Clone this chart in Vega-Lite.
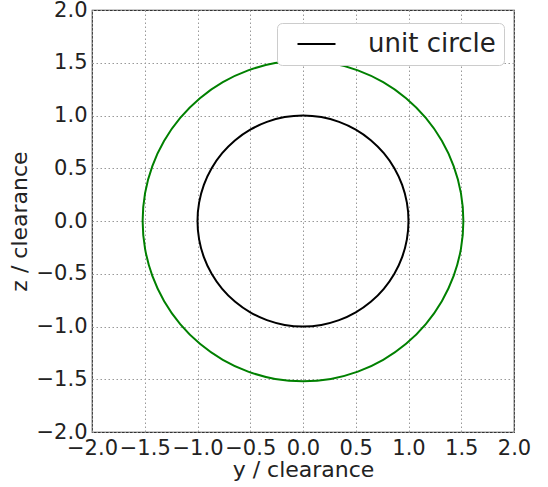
{
  "$schema": "https://vega.github.io/schema/vega-lite/v6.json",
  "autosize": "none",
  "width": 422,
  "height": 422,
  "padding": {"left": 92, "top": 10, "right": 34, "bottom": 55},
  "background": "white",
  "config": {
    "font": "DejaVu Sans",
    "view": {"stroke": "#333", "strokeWidth": 1.2},
    "axis": {
      "labelFont": "DejaVu Sans",
      "titleFont": "DejaVu Sans",
      "labelFontSize": 21,
      "titleFontSize": 22,
      "titleFontWeight": "normal",
      "labelColor": "#222",
      "titleColor": "#222",
      "domain": false,
      "ticks": false,
      "grid": true,
      "gridColor": "#999",
      "gridDash": [1.5, 2.5],
      "gridWidth": 1
    }
  },
  "datasets": {
    "green": [
      {"i": 0, "y": 1.52, "z": 0},
      {"i": 1, "y": 1.497, "z": 0.264},
      {"i": 2, "y": 1.428, "z": 0.52},
      {"i": 3, "y": 1.316, "z": 0.76},
      {"i": 4, "y": 1.164, "z": 0.977},
      {"i": 5, "y": 0.977, "z": 1.164},
      {"i": 6, "y": 0.76, "z": 1.316},
      {"i": 7, "y": 0.52, "z": 1.428},
      {"i": 8, "y": 0.264, "z": 1.497},
      {"i": 9, "y": 0, "z": 1.52},
      {"i": 10, "y": -0.264, "z": 1.497},
      {"i": 11, "y": -0.52, "z": 1.428},
      {"i": 12, "y": -0.76, "z": 1.316},
      {"i": 13, "y": -0.977, "z": 1.164},
      {"i": 14, "y": -1.164, "z": 0.977},
      {"i": 15, "y": -1.316, "z": 0.76},
      {"i": 16, "y": -1.428, "z": 0.52},
      {"i": 17, "y": -1.497, "z": 0.264},
      {"i": 18, "y": -1.52, "z": 0},
      {"i": 19, "y": -1.497, "z": -0.264},
      {"i": 20, "y": -1.428, "z": -0.52},
      {"i": 21, "y": -1.316, "z": -0.76},
      {"i": 22, "y": -1.164, "z": -0.977},
      {"i": 23, "y": -0.977, "z": -1.164},
      {"i": 24, "y": -0.76, "z": -1.316},
      {"i": 25, "y": -0.52, "z": -1.428},
      {"i": 26, "y": -0.264, "z": -1.497},
      {"i": 27, "y": 0, "z": -1.52},
      {"i": 28, "y": 0.264, "z": -1.497},
      {"i": 29, "y": 0.52, "z": -1.428},
      {"i": 30, "y": 0.76, "z": -1.316},
      {"i": 31, "y": 0.977, "z": -1.164},
      {"i": 32, "y": 1.164, "z": -0.977},
      {"i": 33, "y": 1.316, "z": -0.76},
      {"i": 34, "y": 1.428, "z": -0.52},
      {"i": 35, "y": 1.497, "z": -0.264}
    ],
    "unit": [
      {"i": 0, "y": 1, "z": 0, "s": "unit circle"},
      {"i": 1, "y": 0.98481, "z": 0.17365, "s": "unit circle"},
      {"i": 2, "y": 0.93969, "z": 0.34202, "s": "unit circle"},
      {"i": 3, "y": 0.86603, "z": 0.5, "s": "unit circle"},
      {"i": 4, "y": 0.76604, "z": 0.64279, "s": "unit circle"},
      {"i": 5, "y": 0.64279, "z": 0.76604, "s": "unit circle"},
      {"i": 6, "y": 0.5, "z": 0.86603, "s": "unit circle"},
      {"i": 7, "y": 0.34202, "z": 0.93969, "s": "unit circle"},
      {"i": 8, "y": 0.17365, "z": 0.98481, "s": "unit circle"},
      {"i": 9, "y": 0, "z": 1, "s": "unit circle"},
      {"i": 10, "y": -0.17365, "z": 0.98481, "s": "unit circle"},
      {"i": 11, "y": -0.34202, "z": 0.93969, "s": "unit circle"},
      {"i": 12, "y": -0.5, "z": 0.86603, "s": "unit circle"},
      {"i": 13, "y": -0.64279, "z": 0.76604, "s": "unit circle"},
      {"i": 14, "y": -0.76604, "z": 0.64279, "s": "unit circle"},
      {"i": 15, "y": -0.86603, "z": 0.5, "s": "unit circle"},
      {"i": 16, "y": -0.93969, "z": 0.34202, "s": "unit circle"},
      {"i": 17, "y": -0.98481, "z": 0.17365, "s": "unit circle"},
      {"i": 18, "y": -1, "z": 0, "s": "unit circle"},
      {"i": 19, "y": -0.98481, "z": -0.17365, "s": "unit circle"},
      {"i": 20, "y": -0.93969, "z": -0.34202, "s": "unit circle"},
      {"i": 21, "y": -0.86603, "z": -0.5, "s": "unit circle"},
      {"i": 22, "y": -0.76604, "z": -0.64279, "s": "unit circle"},
      {"i": 23, "y": -0.64279, "z": -0.76604, "s": "unit circle"},
      {"i": 24, "y": -0.5, "z": -0.86603, "s": "unit circle"},
      {"i": 25, "y": -0.34202, "z": -0.93969, "s": "unit circle"},
      {"i": 26, "y": -0.17365, "z": -0.98481, "s": "unit circle"},
      {"i": 27, "y": 0, "z": -1, "s": "unit circle"},
      {"i": 28, "y": 0.17365, "z": -0.98481, "s": "unit circle"},
      {"i": 29, "y": 0.34202, "z": -0.93969, "s": "unit circle"},
      {"i": 30, "y": 0.5, "z": -0.86603, "s": "unit circle"},
      {"i": 31, "y": 0.64279, "z": -0.76604, "s": "unit circle"},
      {"i": 32, "y": 0.76604, "z": -0.64279, "s": "unit circle"},
      {"i": 33, "y": 0.86603, "z": -0.5, "s": "unit circle"},
      {"i": 34, "y": 0.93969, "z": -0.34202, "s": "unit circle"},
      {"i": 35, "y": 0.98481, "z": -0.17365, "s": "unit circle"}
    ]
  },
  "encoding": {
    "x": {
      "field": "y", "type": "quantitative",
      "scale": {"domain": [-2, 2], "nice": false, "zero": false},
      "axis": {"title": "y / clearance", "values": [-2, -1.5, -1, -0.5, 0, 0.5, 1, 1.5, 2], "format": ".1f", "labelPadding": 5, "titlePadding": 1, "labelFlush": false}
    },
    "y": {
      "field": "z", "type": "quantitative",
      "scale": {"domain": [-2, 2], "nice": false, "zero": false},
      "axis": {"title": "z / clearance", "values": [-2, -1.5, -1, -0.5, 0, 0.5, 1, 1.5, 2], "format": ".1f", "labelPadding": 5, "titlePadding": 5, "labelFlush": false}
    },
    "order": {"field": "i", "type": "quantitative"}
  },
  "layer": [
    {
      "data": {"name": "green"},
      "mark": {"type": "line", "color": "#008000", "strokeWidth": 2, "interpolate": "cardinal-closed", "clip": true}
    },
    {
      "data": {"name": "unit"},
      "mark": {"type": "line", "strokeWidth": 2, "interpolate": "cardinal-closed", "clip": true},
      "encoding": {
        "color": {
          "field": "s", "type": "nominal",
          "scale": {"domain": ["unit circle"], "range": ["#000000"]},
          "legend": {
            "title": null,
            "orient": "none",
            "legendX": 185,
            "legendY": 13,
            "symbolType": "M-2,0H2",
            "symbolSize": 361,
            "symbolStrokeWidth": 2,
            "symbolOffset": 18.5,
            "labelFont": "DejaVu Sans",
            "labelFontSize": 26,
            "labelColor": "#222",
            "labelOffset": 38.5,
            "padding": 8,
            "strokeColor": "#ccc",
            "fillColor": "white",
            "cornerRadius": 5
          }
        }
      }
    }
  ]
}
